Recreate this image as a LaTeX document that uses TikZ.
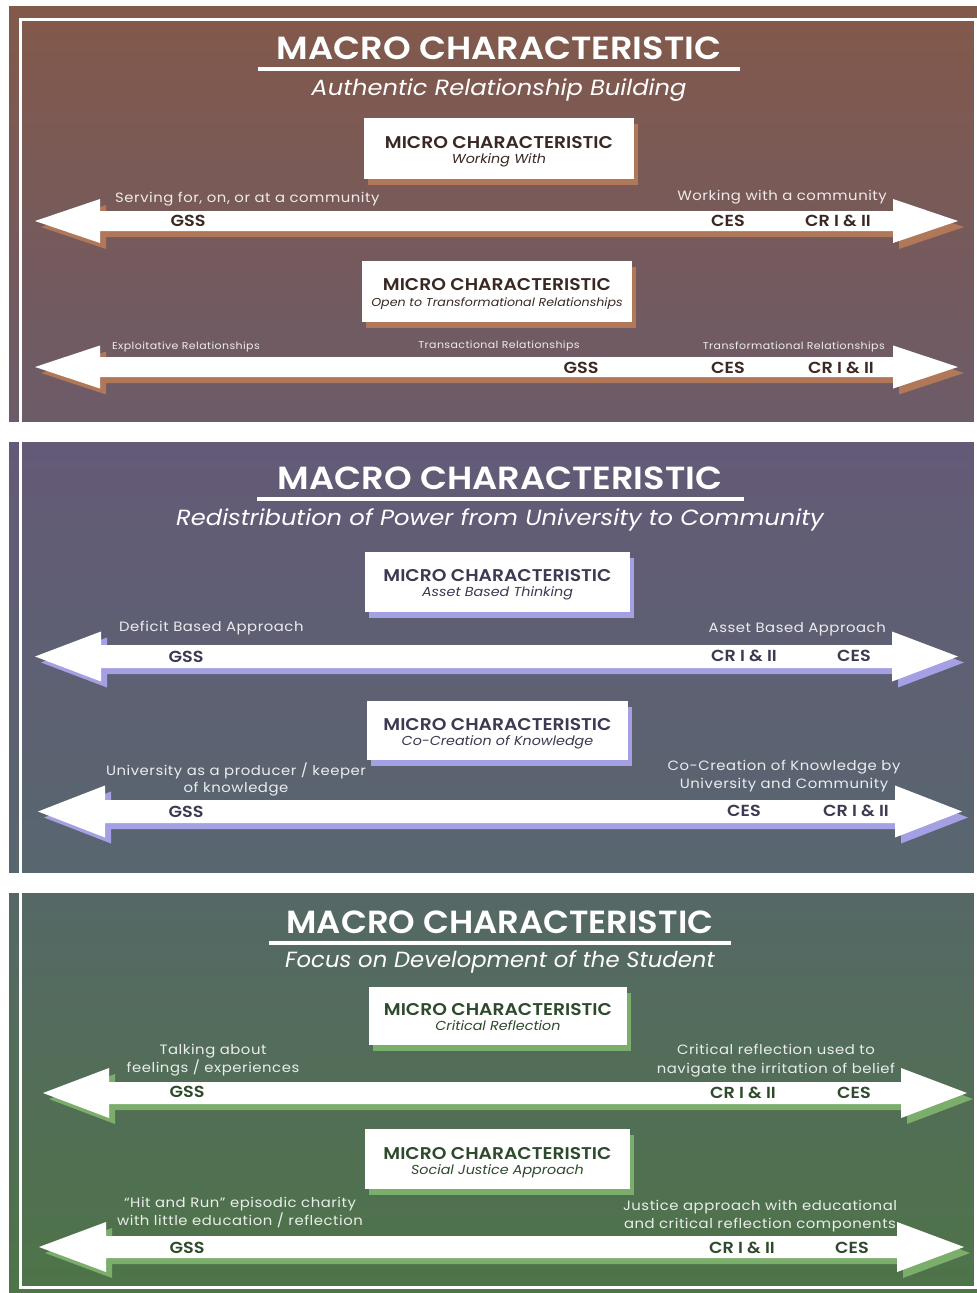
\documentclass[tikz,border=0pt]{standalone}
\usepackage{fontspec}
\IfFontExistsTF{Poppins SemiBold}
    {\setmainfont[FakeStretch=1.1, BoldFont={Poppins SemiBold}]{Poppins}}
    {\setmainfont[FakeStretch=1.1]{Poppins}}
\newfontfamily\trackfont[LetterSpace=4, FakeStretch=1.1]{Poppins}
\usetikzlibrary{positioning,shadows}

\definecolor{rustTop}{HTML}{83594A}
\definecolor{rustMid}{HTML}{7E5950}
\definecolor{rustBot}{HTML}{6C5B69}
\definecolor{rustShade}{HTML}{B07858}
\definecolor{rustInk}{HTML}{3A2822}
\definecolor{plumTop}{HTML}{645A77}
\definecolor{plumMid}{HTML}{5B5F7A}
\definecolor{plumBot}{HTML}{58666F}
\definecolor{plumShade}{HTML}{A59FE4}
\definecolor{plumInk}{HTML}{3B3A52}
\definecolor{mossTop}{HTML}{566866}
\definecolor{mossMid}{HTML}{526E57}
\definecolor{mossBot}{HTML}{4E7448}
\definecolor{mossShade}{HTML}{7BAE6B}
\definecolor{mossInk}{HTML}{2E4A2C}

\begin{document}
\begin{tikzpicture}[
        x=1pt, y=-1pt,
        macro/.style={anchor=base, text=white, inner sep=0pt, font=\bfseries\fontsize{32}{32}\selectfont},
        macrosub/.style={anchor=base, text=white, inner sep=0pt, font=\itshape\fontsize{22}{22}\selectfont},
        underline/.style={white, line width=3.5pt},
        microbox/.style={fill=white, inner sep=0pt, general shadow={fill=#1, shadow xshift=4pt, shadow yshift=-6pt}},
        microtitle/.style={anchor=base, inner sep=0pt, font=\bfseries\fontsize{17}{17}\selectfont},
        microsub/.style={anchor=base, inner sep=0pt, font=\itshape\fontsize{13}{13}\selectfont},
        endlabel/.style={anchor=base, inner sep=0pt, text=white, text opacity=0.88, font=\trackfont\fontsize{13.5}{13.5}\selectfont},
        smalllabel/.style={endlabel, font=\trackfont\fontsize{10}{10}\selectfont},
        course/.style={anchor=base, inner sep=0pt, font=\bfseries\fontsize{16}{16}\selectfont},
        pics/bigarrow/.style args={#1/#2/#3/#4/#5}{code={
            \foreach \col/\off in {#5/6, white/0}
                \fill[\col, shift={(\off,\off)}] (0,0) -- (#4,-#3) -- (#4,-#2) -- ({#1-#4},-#2) -- ({#1-#4},-#3) -- (#1,0)
                    -- ({#1-#4},#3) -- ({#1-#4},#2) -- (#4,#2) -- (#4,#3) -- cycle;
        }}
    ]
    \useasboundingbox (0,0) rectangle (977,1293);
    \fill[white] (0,0) rectangle (977,1293);

    % panel backgrounds
    \shade[top color=rustTop, middle color=rustMid, bottom color=rustBot] (9,6) rectangle (977,421);
    \shade[top color=plumTop, middle color=plumMid, bottom color=plumBot] (9,442) rectangle (977,872);
    \shade[top color=mossTop, middle color=mossMid, bottom color=mossBot] (9,893) rectangle (977,1293);
    \draw[white, line width=3pt] (20,19) rectangle (975,1287);

    % panel 1
    \node[macro] (macro1) at (499,59) {MACRO CHARACTERISTIC};
    \draw[underline] (258,69) -- (740,69);
    \node[macrosub] (sub1) at (499,95) {Authentic Relationship Building};

    \node[microbox=rustShade, minimum width=270pt, minimum height=61pt] (box1) at (499,148.5) {};
    \node[microtitle, text=rustInk] (box1a) at (499,148) {MICRO CHARACTERISTIC};
    \node[microsub, text=rustInk] (box1b) at (499,163) {Working With};
    \pic (arr1) at (35,221) {bigarrow={923/10/22/65/rustShade}};
    \node[endlabel, anchor=base west] (left1) at (115,202) {Serving for, on, or at a community};
    \node[endlabel, anchor=base east] (right1) at (887,200) {Working with a community};
    \node[course, text=rustInk] (gss1) at (188,226) {GSS};
    \node[course, text=rustInk] (ces1) at (728,226) {CES};
    \node[course, text=rustInk] (cr1) at (838,226) {CR I \& II};

    \node[microbox=rustShade, minimum width=270pt, minimum height=61pt] (box2) at (497,291.5) {};
    \node[microtitle, text=rustInk] (box2a) at (497,290) {MICRO CHARACTERISTIC};
    \node[microsub, text=rustInk, font=\itshape\fontsize{11.5}{11.5}\selectfont] (box2b) at (497,306) {Open to Transformational Relationships};
    \pic (arr2) at (35,367) {bigarrow={923/10/21.5/65/rustShade}};
    \node[smalllabel, anchor=base west] (left2) at (112,349) {Exploitative Relationships};
    \node[smalllabel] (mid2) at (499,348) {Transactional Relationships};
    \node[smalllabel, anchor=base east] (right2) at (885,349) {Transformational Relationships};
    \node[course, text=rustInk] (gss2) at (581,373) {GSS};
    \node[course, text=rustInk] (ces2) at (728,373) {CES};
    \node[course, text=rustInk] (cr2) at (841,373) {CR I \& II};

    % panel 2
    \node[macro] (macro2) at (500,489) {MACRO CHARACTERISTIC};
    \draw[underline] (257,499) -- (744,499);
    \node[macrosub] (sub2) at (500,525) {Redistribution of Power from University to Community};

    \node[microbox=plumShade, minimum width=265pt, minimum height=60pt] (box3) at (497.5,582) {};
    \node[microtitle, text=plumInk] (box3a) at (497.5,581) {MICRO CHARACTERISTIC};
    \node[microsub, text=plumInk] (box3b) at (497.5,596) {Asset Based Thinking};
    \pic (arr3) at (35,656.5) {bigarrow={923/11.5/25/66/plumShade}};
    \node[endlabel, anchor=base west] (left3) at (119,631) {Deficit Based Approach};
    \node[endlabel, anchor=base east] (right3) at (886,632) {Asset Based Approach};
    \node[course, text=plumInk] (gss3) at (186,662) {GSS};
    \node[course, text=plumInk] (cr3) at (744,661) {CR I \& II};
    \node[course, text=plumInk] (ces3) at (854,661) {CES};

    \node[microbox=plumShade, minimum width=261pt, minimum height=59pt] (box4) at (497.5,730.5) {};
    \node[microtitle, text=plumInk] (box4a) at (497.5,730) {MICRO CHARACTERISTIC};
    \node[microsub, text=plumInk] (box4b) at (497.5,745) {Co-Creation of Knowledge};
    \pic (arr4) at (38,811.5) {bigarrow={924/11.5/26/67/plumShade}};
    \node[endlabel] (left4a) at (236,775) {University as a producer / keeper};
    \node[endlabel] (left4b) at (236,792) {of knowledge};
    \node[endlabel] (right4a) at (784,770) {Co-Creation of Knowledge by};
    \node[endlabel] (right4b) at (784,788) {University and Community};
    \node[course, text=plumInk] (gss4) at (186,817) {GSS};
    \node[course, text=plumInk] (ces4) at (744,816) {CES};
    \node[course, text=plumInk] (cr4) at (856,816) {CR I \& II};

    % panel 3
    \node[macro] (macro3) at (500,933) {\scalebox{0.96}[1]{MACRO CHARACTERISTIC}};
    \draw[underline] (269,943) -- (731,943);
    \node[macrosub] (sub3) at (500,967) {\scalebox{0.94}[1]{Focus on Development of the Student}};

    \node[microbox=mossShade, minimum width=258pt, minimum height=58pt] (box5) at (498,1016) {};
    \node[microtitle, text=mossInk] (box5a) at (498,1015) {MICRO CHARACTERISTIC};
    \node[microsub, text=mossInk] (box5b) at (498,1030) {Critical Reflection};
    \pic (arr5) at (43,1093) {bigarrow={924/11/25/66/mossShade}};
    \node[endlabel] (left5a) at (213,1054) {Talking about};
    \node[endlabel] (left5b) at (213,1072) {feelings / experiences};
    \node[endlabel] (right5a) at (776,1054) {Critical reflection used to};
    \node[endlabel] (right5b) at (776,1073) {navigate the irritation of belief};
    \node[course, text=mossInk] (gss5) at (187,1097) {GSS};
    \node[course, text=mossInk] (cr5) at (743,1098) {CR I \& II};
    \node[course, text=mossInk] (ces5) at (854,1098) {CES};

    \node[microbox=mossShade, minimum width=265pt, minimum height=60pt] (box6) at (497.5,1159) {};
    \node[microtitle, text=mossInk] (box6a) at (497.5,1159) {MICRO CHARACTERISTIC};
    \node[microsub, text=mossInk] (box6b) at (497.5,1174) {Social Justice Approach};
    \pic (arr6) at (39,1247) {bigarrow={925/11/25/67/mossShade}};
    \node[endlabel] (left6a) at (240,1207) {“Hit and Run” episodic charity};
    \node[endlabel] (left6b) at (240,1225) {with little education / reflection};
    \node[endlabel] (right6a) at (760,1210) {Justice approach with educational};
    \node[endlabel] (right6b) at (760,1228) {and critical reflection components};
    \node[course, text=mossInk] (gss6) at (187,1253) {GSS};
    \node[course, text=mossInk] (cr6) at (742,1253) {CR I \& II};
    \node[course, text=mossInk] (ces6) at (852,1253) {CES};
\end{tikzpicture}
\end{document}
